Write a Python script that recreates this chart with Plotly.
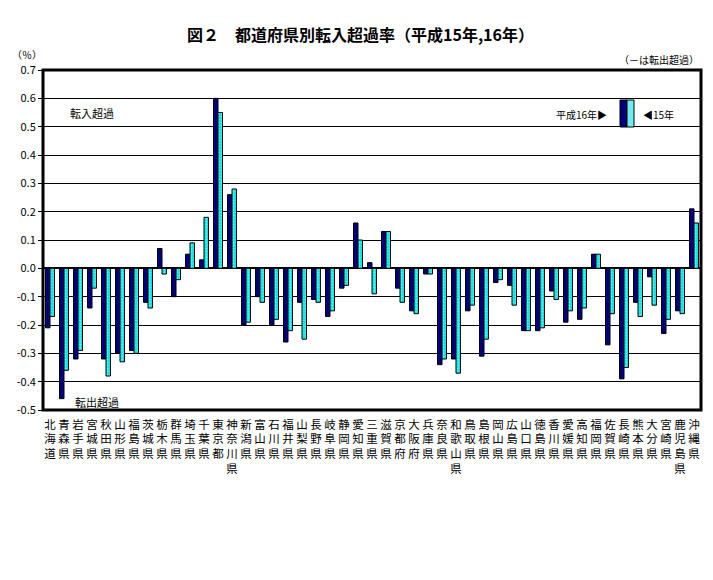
import plotly.graph_objects as go

prefectures = ["北海道","青森県","岩手県","宮城県","秋田県","山形県","福島県","茨城県","栃木県","群馬県",
               "埼玉県","千葉県","東京都","神奈川県","新潟県","富山県","石川県","福井県","山梨県","長野県",
               "岐阜県","静岡県","愛知県","三重県","滋賀県","京都府","大阪府","兵庫県","奈良県","和歌山県",
               "鳥取県","島根県","岡山県","広島県","山口県","徳島県","香川県","愛媛県","高知県","福岡県",
               "佐賀県","長崎県","熊本県","大分県","宮崎県","鹿児島県","沖縄県"]

h16 = [-0.21,-0.46,-0.32,-0.14,-0.32,-0.30,-0.29,-0.12,0.07,-0.10,
       0.05,0.03,0.60,0.26,-0.20,-0.10,-0.20,-0.26,-0.12,-0.11,
       -0.17,-0.07,0.16,0.02,0.13,-0.07,-0.15,-0.02,-0.34,-0.32,
       -0.15,-0.31,-0.05,-0.06,-0.22,-0.22,-0.08,-0.19,-0.18,0.05,
       -0.27,-0.39,-0.12,-0.03,-0.23,-0.15,0.21]
h15 = [-0.17,-0.36,-0.29,-0.07,-0.38,-0.33,-0.30,-0.14,-0.02,-0.04,
       0.09,0.18,0.55,0.28,-0.19,-0.12,-0.18,-0.22,-0.25,-0.12,
       -0.15,-0.06,0.10,-0.09,0.13,-0.12,-0.16,-0.02,-0.32,-0.37,
       -0.13,-0.25,-0.04,-0.13,-0.22,-0.21,-0.11,-0.15,-0.14,0.05,
       -0.16,-0.35,-0.17,-0.13,-0.18,-0.16,0.16]

y_ticks = [0.7,0.6,0.5,0.4,0.3,0.2,0.1,0.0,-0.1,-0.2,-0.3,-0.4,-0.5]
y_ticktext = ["0.7","0.6","0.5","0.4","0.3","0.2","0.1","0.0","-0.1","-0.2","-0.3","-0.4","-0.5"]

FONT = "Noto Sans CJK JP"
NAVY = "#000080"
CYAN = "#00E5E5"

x_idx = list(range(len(prefectures)))
x_labels = ["<br>".join(list(p)) for p in prefectures]

fig = go.Figure()
fig.add_trace(go.Bar(x=x_idx, y=h16, name="平成16年",
                     marker=dict(color=NAVY, line=dict(color="black", width=1))))
fig.add_trace(go.Bar(x=x_idx, y=h15, name="15年",
                     marker=dict(color=CYAN, line=dict(color="black", width=1),
                                 pattern=dict(shape=".", bgcolor=CYAN, fgcolor="#D8F8F8",
                                              size=3, solidity=0.35))))

fig.update_layout(
    width=713, height=580,
    margin=dict(l=43, r=12, t=70, b=170),
    paper_bgcolor="white", plot_bgcolor="white",
    barmode="group", bargap=0.36, bargroupgap=0,
    showlegend=False,
    font=dict(family=FONT, color="black", size=11),
    xaxis=dict(range=[-0.5, len(prefectures) - 0.5], tickmode="array",
               tickvals=x_idx, ticktext=x_labels, showgrid=False, zeroline=False,
               ticks="", showline=False, tickangle=0, ticklabelstandoff=6,
               tickfont=dict(family=FONT, size=11.5, color="black")),
    yaxis=dict(range=[-0.5, 0.7], tickmode="array", tickvals=y_ticks, ticktext=y_ticktext,
               showgrid=True, gridcolor="black", gridwidth=1,
               zeroline=True, zerolinecolor="black", zerolinewidth=2,
               ticks="outside", ticklen=4, tickcolor="black", showline=False,
               tickfont=dict(family=FONT, size=11, color="black")),
)

# plot border
fig.add_shape(type="rect", xref="paper", yref="paper", x0=0, x1=1, y0=0, y1=1,
              line=dict(color="black", width=3), fillcolor="rgba(0,0,0,0)", layer="above")

fig.add_annotation(text="<b>図２　都道府県別転入超過率（平成15年,16年）</b>", xref="paper", yref="paper",
                   x=0.483, y=1, yshift=36, showarrow=False, yanchor="middle",
                   font=dict(family=FONT, size=16, color="black"))
fig.add_annotation(text="（％）", xref="paper", yref="paper", x=-0.05, y=1, yshift=16,
                   showarrow=False, xanchor="left", yanchor="middle",
                   font=dict(family=FONT, size=10, color="black"))
fig.add_annotation(text="（－は転出超過）", xref="paper", yref="paper", x=1, y=1, yshift=11,
                   showarrow=False, xanchor="right", yanchor="middle",
                   font=dict(family=FONT, size=10, color="black"))
fig.add_annotation(text="転入超過", xref="paper", yref="paper", x=0.038, y=1 - (113 - 70) / 340,
                   showarrow=False, xanchor="left", yanchor="middle",
                   font=dict(family=FONT, size=11, color="black"))
fig.add_annotation(text="転出超過", xref="paper", yref="paper", x=0.046, y=0.025,
                   showarrow=False, xanchor="left", yanchor="middle",
                   font=dict(family=FONT, size=11, color="black"))

# legend (manual)
fig.add_annotation(text="平成16年▶", xref="paper", yref="paper", x=(609 - 43) / 658, y=1 - (114 - 70) / 340,
                   showarrow=False, xanchor="right", yanchor="middle",
                   font=dict(family=FONT, size=10, color="black"))
fig.add_annotation(text="◀15年", xref="paper", yref="paper", x=(641 - 43) / 658, y=1 - (114 - 70) / 340,
                   showarrow=False, xanchor="left", yanchor="middle",
                   font=dict(family=FONT, size=10, color="black"))
fig.add_shape(type="rect", xref="paper", yref="paper",
              x0=(620 - 43) / 658, x1=(627 - 43) / 658, y0=1 - (127 - 70) / 340, y1=1 - (100 - 70) / 340,
              fillcolor=NAVY, line=dict(color="black", width=1), layer="above")
fig.add_shape(type="rect", xref="paper", yref="paper",
              x0=(627 - 43) / 658, x1=(634 - 43) / 658, y0=1 - (127 - 70) / 340, y1=1 - (100 - 70) / 340,
              fillcolor="#6EEFEF", line=dict(color="black", width=1), layer="above")

fig.write_html("out.html")
